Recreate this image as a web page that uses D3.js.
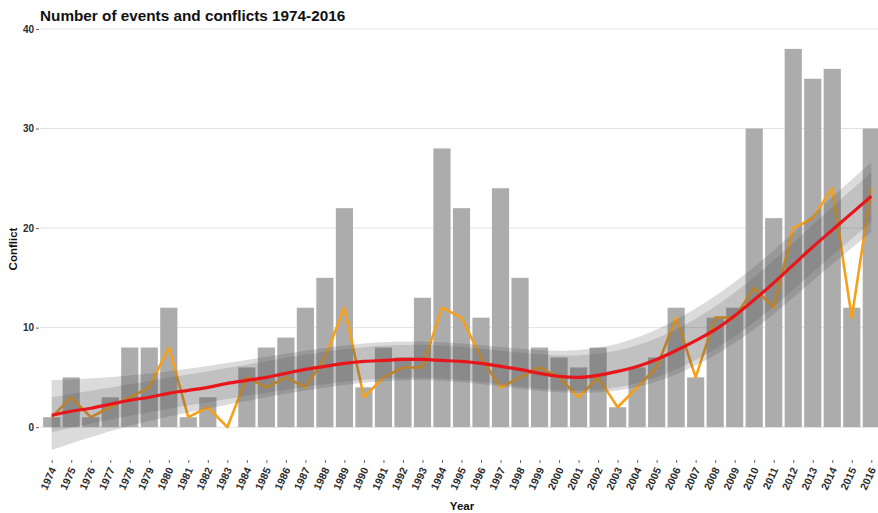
<!DOCTYPE html>
<html>
  <head>
    <title>Number of events and conflicts 1974-2016</title>
    <meta charset="UTF-8">
    <style>
      body { margin: 0; background: #fff; }
      svg { display: block; font-family: "Liberation Sans", Arial, sans-serif; }
      .axis .domain { display: none; }
      .axis text { fill: #2b2b2b; font-weight: bold; }
      .axis line { stroke: #666; }
    </style>
  </head>
  <body>

    <svg></svg>

    <script src="https://cdn.jsdelivr.net/npm/d3@7"></script>
    <script>

/* DATA */

var years = ["1974","1975","1976","1977","1978","1979","1980","1981","1982","1983",
             "1984","1985","1986","1987","1988","1989","1990","1991","1992","1993",
             "1994","1995","1996","1997","1998","1999","2000","2001","2002","2003",
             "2004","2005","2006","2007","2008","2009","2010","2011","2012","2013",
             "2014","2015","2016"];

// grey bars
var conflicts = [1,5,1,3,8,8,12,1,3,0,
                 6,8,9,12,15,22,4,8,7,13,
                 28,22,11,24,15,8,7,6,8,2,
                 6,7,12,5,11,12,30,21,38,35,
                 36,12,30];

// orange line
var events = [1,3,1,2,3,4,8,1,2,0,
              5,4,5,4,7,12,3,5,6,6,
              12,11,7,4,5,6,5,3,5,2,
              4,6,11,5,11,11,14,12,20,21,
              24,11,24];

// red smoothed trend
var trend = [1.2,1.6,1.9,2.3,2.7,3.0,3.4,3.7,4.0,4.4,
             4.7,5.0,5.4,5.8,6.1,6.4,6.6,6.7,6.8,6.8,
             6.7,6.6,6.4,6.1,5.8,5.4,5.1,5.0,5.2,5.6,
             6.1,6.8,7.7,8.7,9.8,11.2,12.8,14.5,16.3,18.1,
             19.8,21.5,23.2];

// confidence ribbons (two overlapping ones), sampled at a few years
var bandYears = ["1974","1978","1982","1986","1990","1994","1998","2002","2006","2010","2013","2016"];
var outerLo = [-2.3, 0.3, 1.9, 3.4, 4.6, 4.9, 3.8, 3.1, 4.8, 9.5, 14.8, 19.6];
var outerHi = [ 4.7, 5.1, 6.1, 7.4, 8.6, 8.7, 7.8, 7.4, 10.4, 15.8, 21.4, 26.6];
var innerLo = [-0.5, 1.2, 2.5, 3.8, 4.9, 5.1, 4.0, 3.3, 5.3, 10.2, 15.6, 20.6];
var innerHi = [ 3.0, 4.3, 5.6, 7.0, 8.2, 8.4, 7.4, 6.9, 9.3, 14.8, 20.4, 25.6];

var yTicks = [0, 10, 20, 30, 40];

var config = {
  "title": "Number of events and conflicts 1974-2016",
  "width": 878,
  "height": 513,
  "panel": { "left": 40, "right": 883, "top": 29, "bottom": 460 },
  "barColor": "#acacac",
  "bandColor": "#4d4d4d",
  "orange": "#f5a01a",
  "red": "#e8161b"
};

var svg = d3.select("svg")
  .attr("width", config.width)
  .attr("height", config.height);

var p = config.panel;

// x: point scale for bar centres, ggplot style expansion of 0.6 steps
var x = d3.scalePoint()
  .domain(years)
  .range([p.left, p.right])
  .padding(0.6);

var barWidth = x.step() * 0.88;

var y = d3.scaleLinear()
  .domain([-3.3, 40])
  .range([p.bottom, p.top]);

/* GRID */
svg.append("g")
  .selectAll("line")
  .data(yTicks)
  .enter().append("line")
    .attr("x1", p.left)
    .attr("x2", config.width)
    .attr("y1", function(d) { return y(d); })
    .attr("y2", function(d) { return y(d); })
    .attr("stroke", "#e3e3e3")
    .attr("stroke-width", 1);

/* BARS */
svg.append("g")
  .selectAll("rect")
  .data(conflicts)
  .enter().append("rect")
    .attr("x", function(d, i) { return x(years[i]) - barWidth / 2; })
    .attr("width", barWidth)
    .attr("y", function(d) { return y(d); })
    .attr("height", function(d) { return y(0) - y(d); })
    .attr("fill", config.barColor);

/* ORANGE LINE */
var line = d3.line()
  .x(function(d, i) { return x(years[i]); })
  .y(function(d) { return y(d); });

svg.append("path")
  .datum(events)
  .attr("fill", "none")
  .attr("stroke", config.orange)
  .attr("stroke-width", 2.6)
  .attr("stroke-linejoin", "round")
  .attr("d", line);

/* RIBBONS */
function ribbon(lo, hi) {
  return d3.area()
    .curve(d3.curveBasis)
    .x(function(d, i) { return x(bandYears[i]); })
    .y0(function(d, i) { return y(lo[i]); })
    .y1(function(d, i) { return y(hi[i]); })(bandYears);
}

svg.append("path")
  .attr("d", ribbon(outerLo, outerHi))
  .attr("fill", config.bandColor)
  .attr("fill-opacity", 0.2);

svg.append("path")
  .attr("d", ribbon(innerLo, innerHi))
  .attr("fill", config.bandColor)
  .attr("fill-opacity", 0.18);

/* RED TREND */
svg.append("path")
  .datum(trend)
  .attr("fill", "none")
  .attr("stroke", config.red)
  .attr("stroke-width", 3.2)
  .attr("d", line.curve(d3.curveMonotoneX));

/* AXES */
svg.append("g")
  .attr("class", "axis")
  .attr("transform", "translate(" + (p.left - 1) + ",0)")
  .call(d3.axisLeft(y).tickValues(yTicks).tickSize(3).tickPadding(2))
  .selectAll("text")
    .attr("font-size", 10);

var xAxis = svg.append("g")
  .attr("class", "axis")
  .attr("transform", "translate(0," + p.bottom + ")")
  .call(d3.axisBottom(x).tickSize(3).tickPadding(2));

xAxis.selectAll("text")
  .attr("font-size", 10.5)
  .attr("text-anchor", "end")
  .attr("dy", "0.35em")
  .attr("transform", "translate(1,8) rotate(-65)")
  .attr("y", 0)
  .attr("x", 0);

/* TITLES */
svg.append("text")
  .attr("x", p.left)
  .attr("y", 21)
  .attr("font-size", 15.3)
  .attr("font-weight", "bold")
  .attr("fill", "#111")
  .text(config.title);

svg.append("text")
  .attr("x", 462)
  .attr("y", 510)
  .attr("text-anchor", "middle")
  .attr("font-size", 11.5)
  .attr("font-weight", "bold")
  .attr("fill", "#111")
  .text("Year");

svg.append("text")
  .attr("transform", "translate(17,249) rotate(-90)")
  .attr("text-anchor", "middle")
  .attr("font-size", 11.5)
  .attr("font-weight", "bold")
  .attr("fill", "#111")
  .text("Conflict");

    </script>
  </body>
</html>
